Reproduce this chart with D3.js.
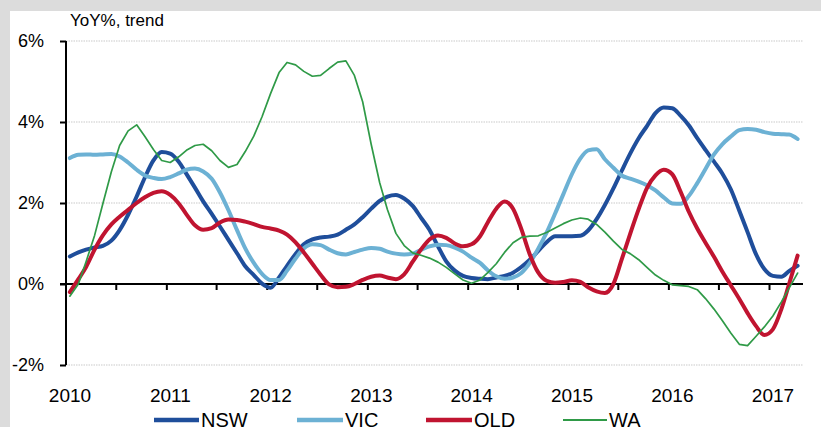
<!DOCTYPE html>
<html>
<head>
<meta charset="utf-8">
<script src="https://cdn.jsdelivr.net/npm/d3@7/dist/d3.min.js"></script>
<style>
  html, body { margin: 0; padding: 0; background: #dcdcdc; }
  svg { display: block; }
  text { font-family: "Liberation Sans", Arial, sans-serif; fill: #000; }
</style>
</head>
<body>
<svg id="chart" width="821" height="427"></svg>
<script>
// ---- Data (monthly, Jan 2010 – Apr 2017) ----
const startMonth = "2010-01";
const monthCount = 88;
const yTicks = [-2, 0, 2, 4, 6];
const yearLabels = ["2010", "2011", "2012", "2013", "2014", "2015", "2016", "2017"];
const seriesNames = ["NSW", "VIC", "QLD", "WA"];

const nsw = [0.68,0.78,0.85,0.9,0.94,1.07,1.33,1.71,2.16,2.63,3.05,3.26,
  3.22,3.02,2.72,2.38,2.04,1.73,1.42,1.09,0.76,0.44,0.22,0.01,
  -0.09,0.16,0.45,0.74,0.98,1.1,1.15,1.17,1.22,1.34,1.47,1.65,
  1.86,2.05,2.16,2.2,2.11,1.93,1.64,1.34,0.93,0.56,0.33,0.2,
  0.15,0.13,0.12,0.16,0.2,0.28,0.42,0.6,0.82,1.03,1.18,1.18,
  1.18,1.19,1.32,1.6,1.95,2.36,2.79,3.22,3.6,3.9,4.22,4.36,
  4.34,4.15,3.92,3.6,3.31,3.02,2.73,2.34,1.81,1.28,0.73,0.37,
  0.2,0.18,0.32,0.45];
const vic = [3.11,3.19,3.2,3.19,3.2,3.21,3.15,3.0,2.82,2.68,2.62,2.59,
  2.64,2.73,2.82,2.85,2.78,2.6,2.26,1.82,1.33,0.88,0.52,0.25,
  0.1,0.1,0.33,0.63,0.88,0.98,0.96,0.85,0.76,0.73,0.79,0.85,
  0.89,0.87,0.8,0.75,0.73,0.75,0.84,0.93,0.97,0.96,0.9,0.8,
  0.65,0.52,0.34,0.19,0.13,0.16,0.27,0.52,0.88,1.27,1.74,2.22,
  2.71,3.1,3.3,3.33,3.08,2.87,2.68,2.6,2.53,2.44,2.31,2.14,
  1.99,1.98,2.17,2.49,2.84,3.2,3.45,3.64,3.8,3.83,3.81,3.75,
  3.71,3.7,3.69,3.58];
const qld = [-0.2,0.12,0.42,0.85,1.2,1.47,1.66,1.83,2.0,2.14,2.25,2.29,
  2.2,1.99,1.72,1.45,1.34,1.38,1.52,1.59,1.58,1.54,1.48,1.41,
  1.37,1.32,1.22,1.03,0.78,0.5,0.23,-0.01,-0.08,-0.07,0.0,0.1,
  0.18,0.21,0.16,0.12,0.24,0.55,0.85,1.1,1.2,1.14,1.0,0.93,
  0.98,1.18,1.52,1.86,2.04,1.86,1.36,0.73,0.28,0.08,0.03,0.05,
  0.09,0.05,-0.08,-0.18,-0.22,0.0,0.6,1.24,1.85,2.37,2.68,2.82,
  2.71,2.27,1.79,1.37,1.02,0.67,0.31,-0.03,-0.37,-0.72,-1.04,-1.26,
  -1.12,-0.62,0.0,0.7];
const wa = [-0.3,0.0,0.55,1.2,1.98,2.77,3.42,3.78,3.93,3.64,3.32,3.05,
  3.0,3.14,3.3,3.42,3.45,3.29,3.05,2.88,2.95,3.27,3.65,4.13,
  4.7,5.22,5.47,5.41,5.25,5.13,5.15,5.32,5.48,5.51,5.15,4.5,
  3.45,2.5,1.84,1.25,0.95,0.77,0.71,0.64,0.54,0.41,0.25,0.1,
  0.02,0.1,0.28,0.5,0.78,1.02,1.15,1.18,1.19,1.27,1.38,1.49,
  1.58,1.63,1.6,1.47,1.28,1.06,0.86,0.75,0.6,0.41,0.22,0.09,
  -0.02,-0.04,-0.06,-0.14,-0.36,-0.62,-0.9,-1.21,-1.49,-1.52,-1.29,-1.06,
  -0.79,-0.44,-0.1,0.27];

const colors = { NSW: "#1f4e9b", VIC: "#6cb1d4", QLD: "#c01430", WA: "#2f9a47" };
const widths = { NSW: 4, VIC: 4, QLD: 4, WA: 1.7 };

// ---- Build ----
const parse = d3.timeParse("%Y-%m");
const first = parse(startMonth);
const months = d3.range(monthCount).map(i => {
  const d = d3.timeMonth.offset(first, i);
  return new Date(d.getFullYear(), d.getMonth(), 15);
});
const valuesBy = { NSW: nsw, VIC: vic, QLD: qld, WA: wa };

const svg = d3.select("#chart");
svg.append("rect").attr("x", 10).attr("y", 11).attr("width", 811).attr("height", 416).attr("fill", "#fff");

const x = d3.scaleTime().domain([new Date(2010, 0, 1), new Date(2017, 4, 1)]).range([66, 802]);
const y = d3.scaleLinear().domain([-2, 6]).range([365, 41]);
const plotRight = 803;

// gridlines
svg.append("g").selectAll("line").data(yTicks.filter(v => v !== 0)).join("line")
  .attr("x1", 66).attr("x2", plotRight)
  .attr("y1", d => y(d)).attr("y2", d => y(d))
  .attr("stroke", "#c9c9c9").attr("stroke-width", 1).attr("stroke-dasharray", "1.5,1");

// y axis
const yAxis = d3.axisLeft(y).tickValues(yTicks).tickSize(6).tickFormat(d => d + "%");
const gy = svg.append("g").attr("transform", "translate(66,0)").call(yAxis);
gy.select(".domain").attr("stroke", "#000").attr("stroke-width", 2).attr("d", `M0,${y(6)}V${y(-2)}`);
gy.selectAll(".tick line").attr("stroke", "#000").attr("stroke-width", 2);
gy.selectAll(".tick text").attr("x", -22).attr("font-size", 18)
  .attr("font-family", "Liberation Sans, Arial, sans-serif").attr("fill", "#000");

// x axis at 0%
const halfYears = d3.timeMonth.every(6).range(new Date(2010, 6, 1), new Date(2017, 4, 1));
const xAxis = d3.axisBottom(x).tickValues(halfYears).tickSize(6).tickFormat("");
const gx = svg.append("g").attr("transform", `translate(0,${y(0)})`).call(xAxis);
gx.select(".domain").attr("stroke", "#000").attr("stroke-width", 2).attr("d", `M60,0H${plotRight}`);
gx.selectAll(".tick line").attr("stroke", "#000").attr("stroke-width", 2);

// year labels
svg.append("g").selectAll("text").data(yearLabels).join("text")
  .attr("x", d => x(new Date(+d, 0, 1)) + 4)
  .attr("y", 402)
  .attr("text-anchor", "middle")
  .attr("font-size", 19)
  .text(d => d);

// title
svg.append("text").attr("x", 70).attr("y", 26).attr("font-size", 17).text("YoY%, trend");

// lines
const smooth = d3.line().x((d, i) => x(months[i])).y(d => y(d)).curve(d3.curveMonotoneX);
const straight = d3.line().x((d, i) => x(months[i])).y(d => y(d)).curve(d3.curveLinear);
seriesNames.forEach(name => {
  svg.append("path")
    .datum(valuesBy[name])
    .attr("d", name === "WA" ? straight : smooth)
    .attr("fill", "none")
    .attr("stroke", colors[name])
    .attr("stroke-width", widths[name])
    .attr("stroke-linejoin", "round")
    .attr("stroke-linecap", "round");
});

// legend
const legendPos = [
  { name: "NSW", x1: 154, x2: 199 },
  { name: "VIC", x1: 297, x2: 343 },
  { name: "QLD", x1: 426, x2: 472 },
  { name: "WA", x1: 563, x2: 607 }
];
const lg = svg.append("g");
legendPos.forEach(p => {
  lg.append("line").attr("x1", p.x1).attr("x2", p.x2).attr("y1", 420).attr("y2", 420)
    .attr("stroke", colors[p.name]).attr("stroke-width", widths[p.name] + 0.5);
  lg.append("text").attr("x", p.x2 + 2).attr("y", 427).attr("font-size", 20).text(p.name);
});
</script>
</body>
</html>
